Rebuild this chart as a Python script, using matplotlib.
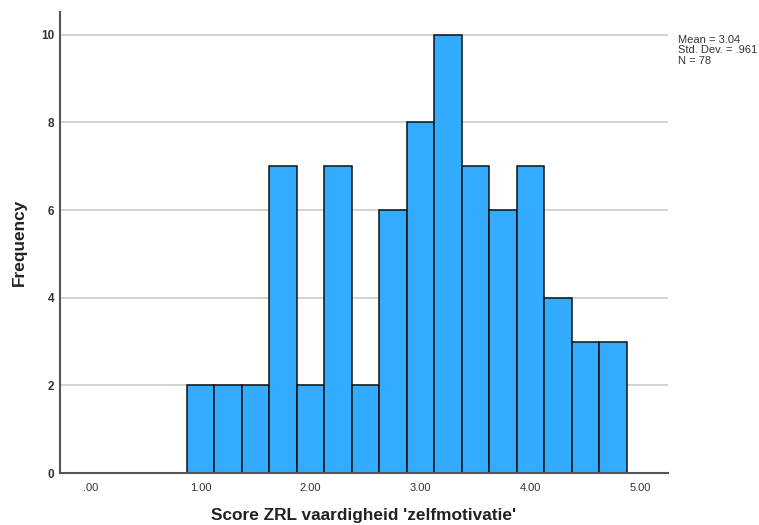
import matplotlib
matplotlib.use("Agg")
import matplotlib.pyplot as plt

plt.rcParams['font.family'] = ['Liberation Sans', 'DejaVu Sans']

bin_centers = [1.00, 1.25, 1.50, 1.75, 2.00, 2.25, 2.50, 2.75, 3.00, 3.25,
               3.50, 3.75, 4.00, 4.25, 4.50, 4.75]
counts = [2, 2, 2, 7, 2, 7, 2, 6, 8, 10, 7, 6, 7, 4, 3, 3]
bin_width = 0.25
x_ticks = [0, 1, 2, 3, 4, 5]
x_tick_labels = ['.00', '1.00', '2.00', '3.00', '4.00', '5.00']
y_ticks = [0, 2, 4, 6, 8, 10]
stats_text = "Mean = 3.04\nStd. Dev. = .961\nN = 78"

fig = plt.figure(figsize=(7.59, 5.25), dpi=100)
ax = fig.add_axes([0.079, 0.099, 0.801, 0.878])

ax.bar(bin_centers, counts, width=bin_width, color='#33ACFF',
       edgecolor='#111111', linewidth=1.1, zorder=3)

ax.set_xlim(-0.28, 5.25)
ax.set_ylim(0, 10.52)
ax.set_xticks(x_ticks)
ax.set_xticklabels(x_tick_labels, fontsize=8, color='#333333')
ax.set_yticks(y_ticks)
ax.set_yticklabels([str(v) for v in y_ticks], fontsize=8.5, color='#333333',
                   fontweight='bold')
ax.tick_params(axis='x', length=0, pad=7)
ax.tick_params(axis='y', length=0, pad=4)

ax.yaxis.grid(True, color='#CCCCCC', linewidth=1.2, zorder=0)
ax.set_axisbelow(True)

for s in ['top', 'right']:
    ax.spines[s].set_visible(False)
for s in ['left', 'bottom']:
    ax.spines[s].set_color('#555555')
    ax.spines[s].set_linewidth(1.5)
    ax.spines[s].set_zorder(4)

ax.set_xlabel("Score ZRL vaardigheid 'zelfmotivatie'", fontsize=12.4,
              fontweight='bold', color='#222222', labelpad=11)
ax.set_ylabel("Frequency", fontsize=12.4, fontweight='bold', color='#222222',
              labelpad=10)

fig.text(678 / 759, 1 - 35 / 525, stats_text, fontsize=8, color='#333333',
         va='top', ha='left', linespacing=1.05)

fig.savefig('out.png', dpi=100)
